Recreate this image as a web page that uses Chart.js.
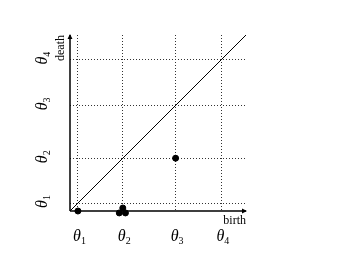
<!DOCTYPE html>
<html>
<head>
<meta charset="utf-8">
<script src="https://cdn.jsdelivr.net/npm/chart.js@4"></script>
<style>
  html, body { margin: 0; padding: 0; background: #fff; }
  #wrap { width: 360px; height: 270px; }
</style>
</head>
<body>
<div id="wrap"><canvas id="chart" width="360" height="270"></canvas></div>
<script>
// persistence diagram values
const thetaVals = [0.45, 3.0, 6.0, 8.6];
const thetaNames = ['1', '2', '3', '4'];
const birthVals = [0.45, 6.0, 3.0, 2.8, 3.15];
const deathVals = [0, 3.0, 0.17, -0.11, -0.11];
const axisMax = 10;
const diagX = [0, axisMax];
const diagY = [0, axisMax];

const serif = '"Liberation Serif", "DejaVu Serif", serif';

const drawTheta = (ctx, sub, x, y) => {
  // theta glyph centred on (x, y), subscript after it
  ctx.font = 'italic 16px ' + serif;
  ctx.textAlign = 'center';
  ctx.textBaseline = 'middle';
  ctx.fillText('θ', x, y);
  ctx.font = '10px ' + serif;
  ctx.textAlign = 'left';
  ctx.fillText(sub, x + 4, y + 4);
};

const decorPlugin = {
  id: 'decor',
  afterDraw(chart) {
    const ctx = chart.ctx;
    const xs = chart.scales.x, ys = chart.scales.y;
    const x0 = xs.getPixelForValue(0), y0 = ys.getPixelForValue(0);
    const xEnd = xs.getPixelForValue(axisMax), yEnd = ys.getPixelForValue(axisMax);
    ctx.save();
    ctx.fillStyle = '#000';
    ctx.strokeStyle = '#000';
    ctx.lineWidth = 1.5;
    // axes
    ctx.beginPath();
    ctx.moveTo(x0, y0); ctx.lineTo(xEnd, y0);
    ctx.moveTo(x0, y0); ctx.lineTo(x0, yEnd);
    ctx.stroke();
    // arrow heads
    ctx.beginPath();
    ctx.moveTo(xEnd + 1, y0); ctx.lineTo(xEnd - 4, y0 - 2.5); ctx.lineTo(xEnd - 4, y0 + 2.5); ctx.closePath();
    ctx.moveTo(x0, yEnd - 1); ctx.lineTo(x0 - 2.5, yEnd + 4); ctx.lineTo(x0 + 2.5, yEnd + 4); ctx.closePath();
    ctx.fill();

    // x tick labels
    thetaVals.forEach((v, i) => {
      drawTheta(ctx, thetaNames[i], xs.getPixelForValue(v) - 1, y0 + 26);
    });
    // y tick labels (rotated)
    thetaVals.forEach((v, i) => {
      ctx.save();
      ctx.translate(x0 - 27, ys.getPixelForValue(v));
      ctx.rotate(-Math.PI / 2);
      drawTheta(ctx, thetaNames[i], -1, 0);
      ctx.restore();
    });

    // axis titles
    ctx.font = '12px ' + serif;
    ctx.textAlign = 'right';
    ctx.textBaseline = 'alphabetic';
    ctx.fillText('birth', xEnd, y0 + 13);
    ctx.save();
    ctx.translate(x0 - 6, yEnd);
    ctx.rotate(-Math.PI / 2);
    ctx.textAlign = 'right';
    ctx.fillText('death', 0, 0);
    ctx.restore();
    ctx.restore();
  }
};

const thetaTicks = (scale) => {
  scale.ticks = thetaVals.map(v => ({ value: v }));
};

const gridOpts = { color: '#333', lineWidth: 1, drawTicks: false };
const borderOpts = { display: false, dash: [1, 2] };

new Chart(document.getElementById('chart').getContext('2d'), {
  type: 'scatter',
  data: {
    datasets: [
      {
        type: 'line',
        data: diagX.map((x, i) => ({ x: x, y: diagY[i] })),
        borderColor: '#000',
        borderWidth: 1,
        pointRadius: 0,
        fill: false
      },
      {
        data: birthVals.map((b, i) => ({ x: b, y: deathVals[i] })),
        backgroundColor: '#000',
        borderColor: '#000',
        pointRadius: 3,
        clip: false
      }
    ]
  },
  options: {
    responsive: false,
    animation: false,
    layout: { padding: { left: 70, top: 35, right: 114, bottom: 59 } },
    plugins: { legend: { display: false }, tooltip: { enabled: false } },
    scales: {
      x: {
        type: 'linear',
        min: 0, max: axisMax,
        afterBuildTicks: thetaTicks,
        ticks: { display: false },
        grid: gridOpts,
        border: borderOpts
      },
      y: {
        type: 'linear',
        min: 0, max: axisMax,
        afterBuildTicks: thetaTicks,
        ticks: { display: false },
        grid: gridOpts,
        border: borderOpts
      }
    }
  },
  plugins: [decorPlugin]
});
</script>
</body>
</html>
